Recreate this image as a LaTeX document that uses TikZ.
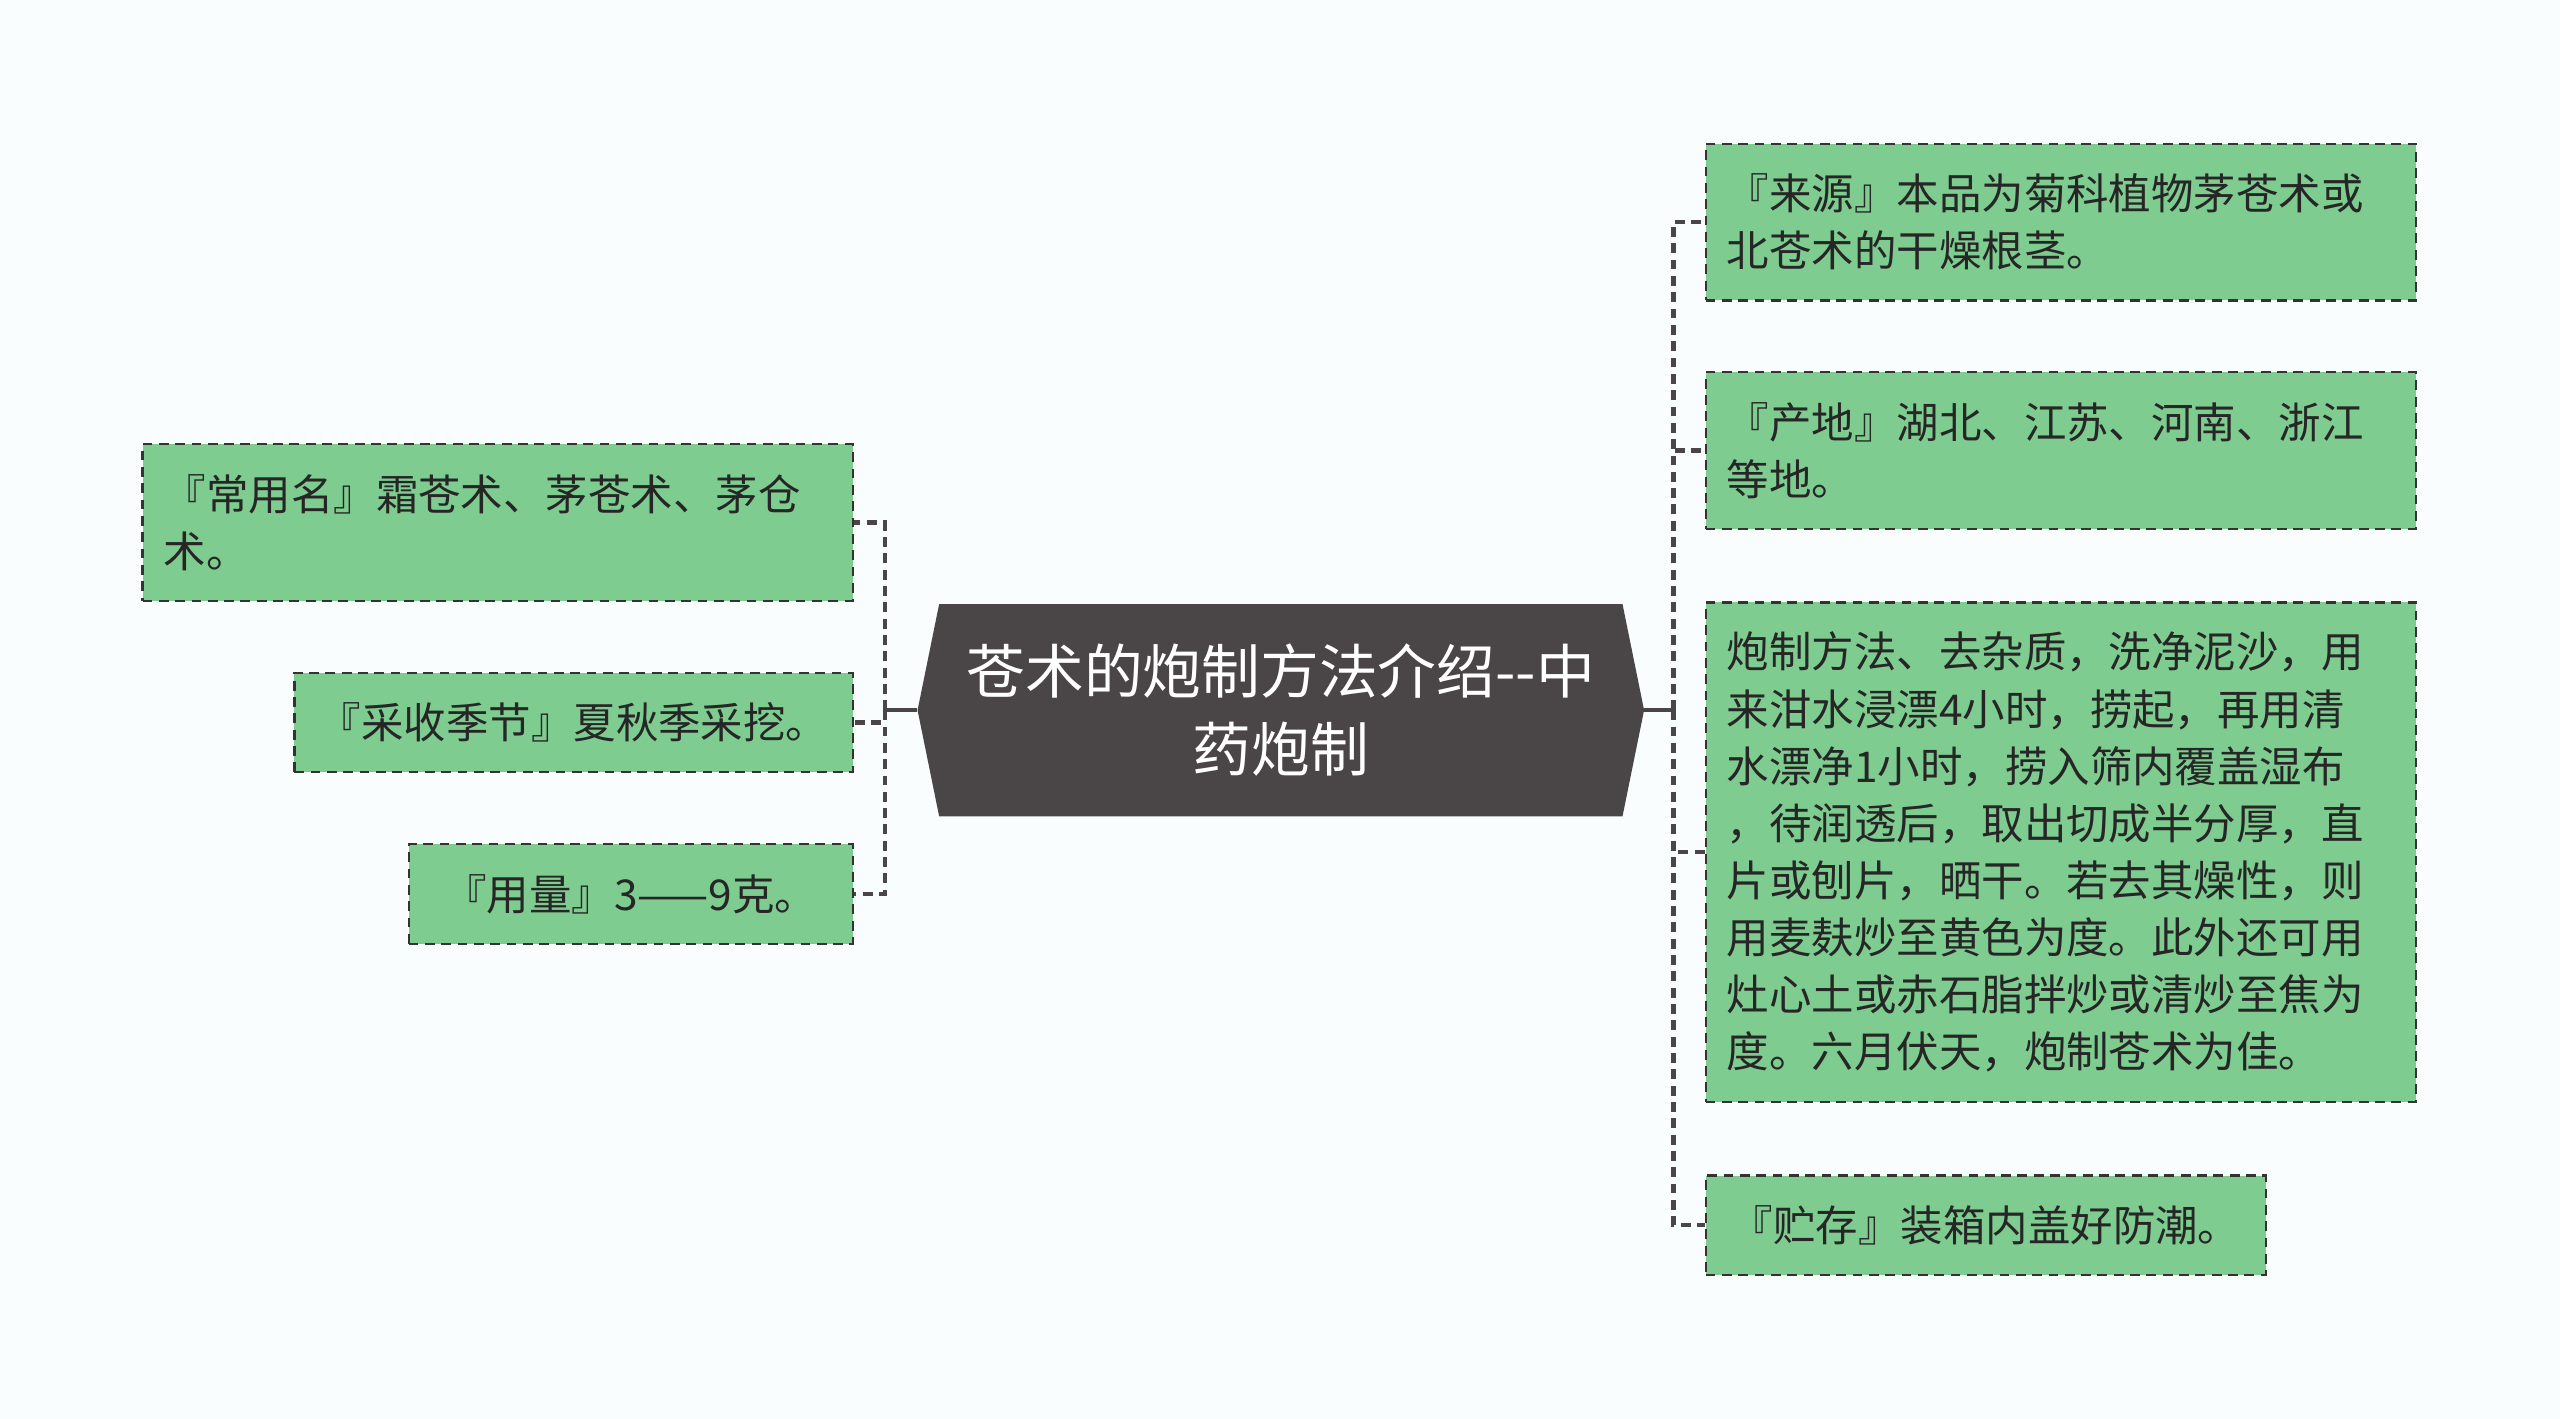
\documentclass[tikz,border=0pt]{standalone}
\usepackage{fontspec}
\setmainfont{Noto Sans CJK SC}
\usetikzlibrary{shapes.symbols}

\definecolor{hubgray}{RGB}{74,69,70}
\definecolor{leafgreen}{RGB}{126,204,144}
\definecolor{inkgray}{RGB}{51,51,51}
\definecolor{paper}{RGB}{250,253,253}

\begin{document}
\begin{tikzpicture}[x=1pt, y=-1pt,
  leaf/.style={draw=inkgray, fill=leafgreen, line width=1.4pt,
    dash pattern=on 6pt off 4pt, inner xsep=13pt, inner ysep=0pt,
    align=left, text=black!85, font=\fontsize{26}{35}\selectfont},
  wide/.style={text width=409pt},
  hub/.style={signal, signal to=west and east, signal pointer angle=157,
    fill=hubgray, text=white, align=center, inner sep=0pt,
    minimum width=445pt, minimum height=130pt,
    font=\fontsize{36}{48}\selectfont},
  link/.style={draw=hubgray, line width=2.6pt, dash pattern=on 6pt off 4pt},
  stub/.style={draw=hubgray, line width=2.6pt}]

% background
\fill[paper] (0,0) rectangle (1568,869);

% centre
\node[hub] (hub) at (784.5,435) {苍术的炮制方法介绍-{}-中\\药炮制};

% left leaves
\node[leaf, wide, anchor=east, minimum height=96pt] (name) at (523,320)
  {『常用名』霜苍术、茅苍术、茅仓\\术。};
\node[leaf, anchor=east, minimum height=61pt, minimum width=342pt] (season) at (523,442.5)
  {『采收季节』夏秋季采挖。};
\node[leaf, anchor=east, minimum height=61pt, minimum width=272pt] (dose) at (523,547.5)
  {『用量』3——9克。};

% right leaves
\node[leaf, wide, anchor=west, minimum height=96pt] (source) at (1044,136)
  {『来源』本品为菊科植物茅苍术或\\北苍术的干燥根茎。};
\node[leaf, wide, anchor=west, minimum height=96pt] (origin) at (1044,276)
  {『产地』湖北、江苏、河南、浙江\\等地。};
\node[leaf, wide, anchor=west, minimum height=306pt] (method) at (1044,522)
  {炮制方法、去杂质，洗净泥沙，用\\
   来泔水浸漂4小时，捞起，再用清\\
   水漂净1小时，捞入筛内覆盖湿布\\
   ，待润透后，取出切成半分厚，直\\
   片或刨片，晒干。若去其燥性，则\\
   用麦麸炒至黄色为度。此外还可用\\
   灶心土或赤石脂拌炒或清炒至焦为\\
   度。六月伏天，炮制苍术为佳。};
\node[leaf, anchor=west, minimum height=61pt, minimum width=343pt] (store) at (1044,750.5)
  {『贮存』装箱内盖好防潮。};

% spines
\coordinate (lspine) at (542,435);
\coordinate (rspine) at (1025,435);
\draw[stub] (hub.west) -- (lspine);
\draw[stub] (hub.east) -- (rspine);

% links
\draw[link] (lspine) |- (name.east);
\draw[link] (lspine) |- (season.east);
\draw[link] (lspine) |- (dose.east);

\draw[link] (rspine) |- (source.west);
\draw[link] (rspine) |- (origin.west);
\draw[link] (rspine) |- (method.west);
\draw[link] (rspine) |- (store.west);
\end{tikzpicture}
\end{document}
